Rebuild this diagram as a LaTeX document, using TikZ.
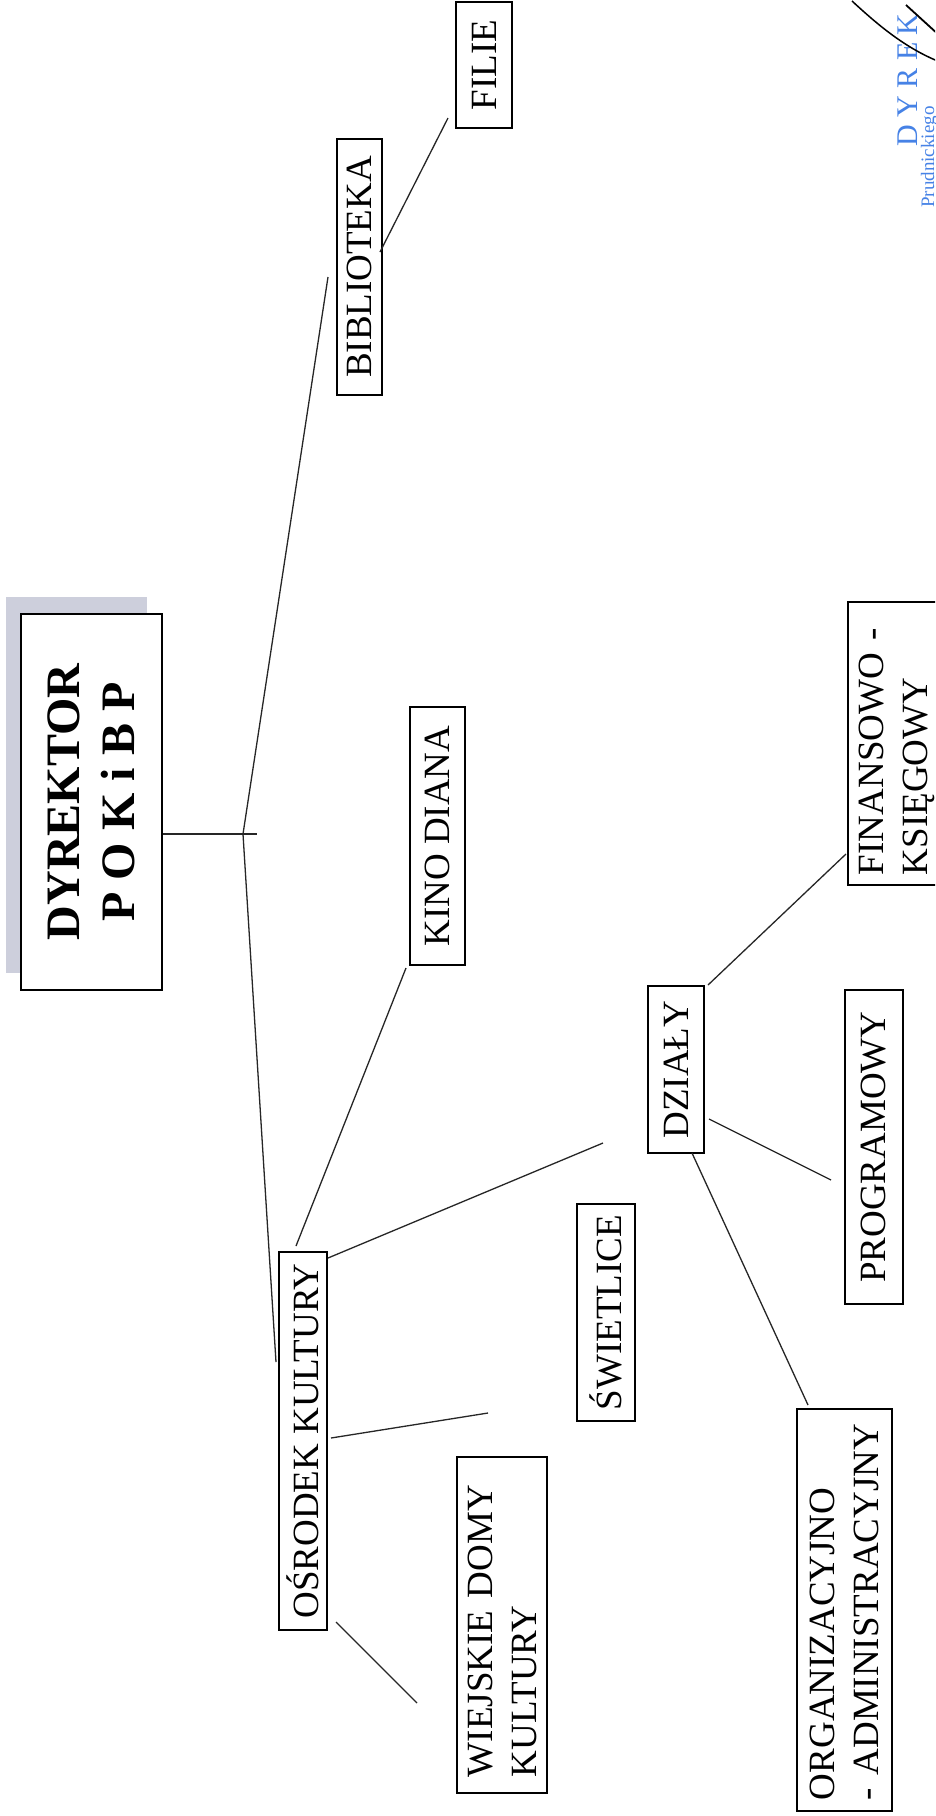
\documentclass[tikz,border=0pt]{standalone}
\usepackage{fontspec}
\setmainfont{Liberation Serif}
\definecolor{shadowc}{RGB}{205,207,220}
\definecolor{stampblue}{RGB}{70,130,230}
\begin{document}
\begin{tikzpicture}[x=1pt,y=1pt,
  box/.style={draw=black, line width=1.3pt, fill=white, rotate=90, inner sep=0pt, font=\fontsize{37}{44}\selectfont},
  conn/.style={draw=black!85, line width=1.3pt},
  stamp/.style={rotate=90, anchor=base west, text=stampblue, inner sep=0pt}
]
\useasboundingbox (0,0) rectangle (935,-1816);
\clip (0,0) rectangle (935,-1816);
\fill[white] (0,0) rectangle (935,-1816);

% director box with shadow
\fill[shadowc] (6,-597) rectangle (147,-973);
\node[box, line width=1.6pt, minimum width=376pt, minimum height=141pt, align=center,
      font=\fontsize{48}{55}\selectfont\bfseries] (dyr) at (91.5,-802) {DYREKTOR\\P O K i B P};

% first level
\node[box, minimum width=256pt, minimum height=45pt] (bib) at (359.5,-267) {BIBLIOTEKA};
\node[box, minimum width=126pt, minimum height=56pt] (filie) at (484,-65) {FILIE};
\node[box, minimum width=258pt, minimum height=55pt] (kino) at (437.5,-836) {KINO DIANA};
\node[box, minimum width=378pt, minimum height=48pt] (osr) at (303,-1441) {OŚRODEK KULTURY};

% second level
\node[box, minimum width=217pt, minimum height=58pt] (swi) at (606,-1312.5) {ŚWIETLICE};
\node[box, minimum width=336pt, minimum height=90pt, inner xsep=16pt, text width=304pt, align=left] (wdk) at (502,-1625) {WIEJSKIE DOMY\\KULTURY};
\node[box, minimum width=167pt, minimum height=56pt] (dzi) at (676,-1069.5) {DZIAŁY};

% departments
\node[box, minimum width=314pt, minimum height=58pt] (prog) at (874,-1147) {PROGRAMOWY};
\node[box, minimum width=283pt, minimum height=98pt, inner xsep=10pt, text width=263pt, align=left] (fin) at (897,-743.5) {FINANSOWO -\\KSIĘGOWY};
\node[box, minimum width=402pt, minimum height=95pt, inner xsep=11pt, text width=380pt, align=left] (org) at (844.5,-1610) {ORGANIZACYJNO\\ - ADMINISTRACYJNY};

% connector end points
\coordinate (j) at (243,-834);
\coordinate (jE) at (257,-834);
\coordinate (bibB) at (328,-277);
\coordinate (osrT) at (276,-1362);
\coordinate (bibR) at (380,-252);
\coordinate (filieL) at (448,-118);
\coordinate (kinoB) at (406,-968);
\coordinate (osrK) at (296,-1246);
\coordinate (osrD) at (328,-1258);
\coordinate (dziE) at (603,-1143);
\coordinate (osrS) at (331,-1438);
\coordinate (swiE) at (488,-1413);
\coordinate (osrW) at (336,-1622);
\coordinate (wdkE) at (417,-1703);
\coordinate (dziF) at (708,-985);
\coordinate (finE) at (846,-854);
\coordinate (dziP) at (709,-1119);
\coordinate (progE) at (831,-1180);
\coordinate (dziO) at (692,-1153);
\coordinate (orgE) at (808,-1405);

% connectors
\draw[conn] (dyr.south |- j) -- (jE);
\draw[conn] (j) -- (bibB);
\draw[conn] (j) -- (osrT);
\draw[conn] (bibR) -- (filieL);
\draw[conn] (kinoB) -- (osrK);
\draw[conn] (osrD) -- (dziE);
\draw[conn] (osrS) -- (swiE);
\draw[conn] (osrW) -- (wdkE);
\draw[conn] (dziF) -- (finE);
\draw[conn] (dziP) -- (progE);
\draw[conn] (dziO) -- (orgE);

% stamp and signature
\node[stamp, font=\fontsize{30}{30}\selectfont] (st1) at (917,-147) {D Y R E K};
\node[stamp, font=\fontsize{19}{19}\selectfont] (st2) at (934,-208) {Prudnickiego};
\draw[line width=1.5pt] (852,-1) .. controls (878,-25) and (905,-48) .. (940,-62);
\draw[line width=1.8pt] (906,-5) -- (940,-36);
\end{tikzpicture}
\end{document}
